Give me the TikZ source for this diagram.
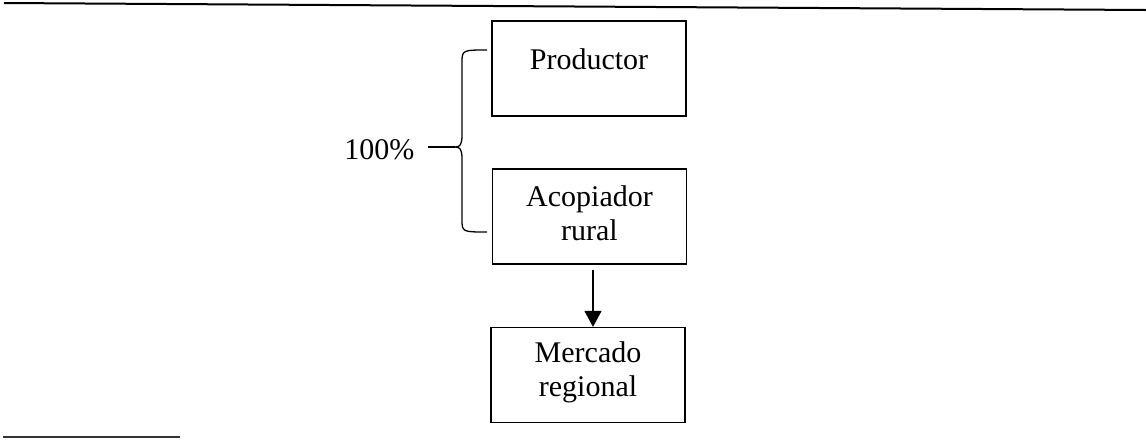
\documentclass[tikz,border=0pt]{standalone}
\usepackage{fontspec}
\setmainfont{Liberation Serif}
\usetikzlibrary{arrows.meta}
\begin{document}
\begin{tikzpicture}[x=1pt,y=-1pt,
  box/.style={draw,line width=1.3pt,minimum width=194pt,minimum height=95pt,inner sep=0pt},
  lbl/.style={font=\fontsize{30}{34}\selectfont,align=center},
  rule/.style={line width=2pt}]
\useasboundingbox (0,0) rectangle (1146,440);
\coordinate (tl) at (4,3);
\coordinate (tr) at (1146,10);
\draw[rule] (tl) -- (tr);
\coordinate (bl) at (3,437);
\coordinate (br) at (180,437);
\draw[line width=1.4pt,black!80] (bl) -- (br);
\node[box] (prod) at (589,68.5) {};
\node[lbl,anchor=center] (prodt) at (589,59) {Productor};
\node[box] (acop) at (589.5,216.5) {};
\node[lbl] (acopt) at (589.5,213) {Acopiador\\rural};
\node[box] (merc) at (588,375) {};
\node[lbl] (merct) at (588,372) {Mercado\\regional};
\draw[line width=1.3pt,-{Triangle[width=17pt,length=16pt]}] (593,270) -- (merc.north -| 593,0);
\coordinate (btop) at (487,50);
\coordinate (bbot) at (487,232);
\coordinate (bmid) at (455,147);
\draw[line width=1.3pt] (btop) .. controls (463,50) and (462,50) .. (462,62)
  -- (462,135) .. controls (462,145) and (460,147) .. (bmid)
  .. controls (460,147) and (462,149) .. (462,159)
  -- (462,220) .. controls (462,232) and (463,232) .. (bbot);
\coordinate (pl) at (428,147);
\draw[line width=1.3pt] (pl) -- (bmid);
\node[lbl,anchor=east] (pct) at (418,150) {100\%};
\end{tikzpicture}
\end{document}
